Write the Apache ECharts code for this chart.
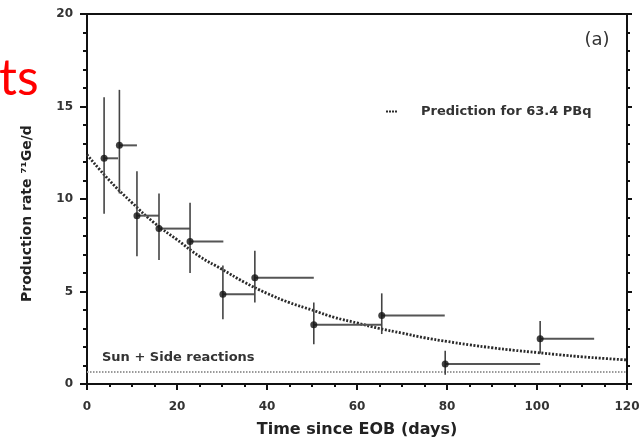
<!DOCTYPE html>
<html><head><meta charset="utf-8">
<script src="https://cdn.jsdelivr.net/npm/echarts@6/dist/echarts.min.js"></script>
<style>html,body{margin:0;padding:0;background:#fff}#c{width:642px;height:439px}</style>
</head><body><div id="c"></div>
<script>
// measured points (days, production rate)
var xs    = [3.8, 7.2, 11.1, 16.0, 22.9, 30.2, 37.3, 50.4, 65.5, 79.6, 100.7];
var ys    = [12.2, 12.9, 9.1, 8.4, 7.7, 4.85, 5.75, 3.2, 3.7, 1.08, 2.45];
var yHi   = [15.5, 15.9, 11.5, 10.3, 9.8, 6.4, 7.2, 4.4, 4.9, 1.8, 3.4];
var yLo   = [9.2, 10.3, 6.9, 6.7, 6.0, 3.5, 4.4, 2.15, 2.7, 0.5, 1.65];
var xEnd  = [6.9, 11.1, 16.0, 22.9, 30.3, 37.2, 50.4, 65.5, 79.5, 100.7, 112.7];
// prediction curve
var predX = [0, 5, 10, 15, 20, 25, 30, 35, 40, 45, 50, 55, 60, 65, 70, 75, 80, 85, 90, 95, 100, 105, 110, 115, 120];
var predY = [12.4, 11.0, 9.8, 8.7, 7.8, 6.9, 6.2, 5.5, 4.9, 4.4, 4.0, 3.6, 3.3, 3.0, 2.75, 2.5, 2.3, 2.12, 1.96, 1.82, 1.7, 1.58, 1.47, 1.38, 1.3];
// background level
var bgX = [0, 120];
var bgY = [0.65, 0.65];
var xTicks = [0, 20, 40, 60, 80, 100, 120];
var yTicks = [0, 5, 10, 15, 20];

var FONT = 'DejaVu Sans';
var chart = echarts.init(document.getElementById('c'), null, {renderer:'canvas'});
var errData = xs.map(function(x,i){return [x, ys[i], yLo[i], yHi[i], xEnd[i]];});
var option = {
  animation:false,
  backgroundColor:'#fff',
  textStyle:{fontFamily:FONT},
  grid:{left:87, right:15, top:14, bottom:55, containLabel:false, outerBoundsMode:'none'},
  legend:{
    data:[{name:'Prediction for 63.4 PBq', icon:'path://M0,0h2v2h-2z M3,0h2v2h-2z M6,0h2v2h-2z M9,0h2v2h-2z'}],
    left:381, top:100, itemWidth:11, itemHeight:3,
    itemStyle:{color:'#2a2a2a'},
    textStyle:{fontFamily:FONT, fontWeight:'bold', fontSize:13, color:'#333', padding:[0,0,0,19]}
  },
  xAxis:[{
    type:'value', min:xTicks[0], max:xTicks[xTicks.length-1], interval:20,
    axisLine:{onZero:false, lineStyle:{color:'#111', width:2}},
    axisTick:{show:true, inside:false, length:6, lineStyle:{color:'#111', width:2}},
    minorTick:{show:true, splitNumber:4, length:3, lineStyle:{color:'#111', width:2}},
    splitLine:{show:false},
    axisLabel:{fontFamily:FONT, fontWeight:'bold', fontSize:12, color:'#333', margin:17},
    name:'Time since EOB (days)', nameLocation:'middle', nameGap:38,
    nameTextStyle:{fontFamily:FONT, fontWeight:'bold', fontSize:16, color:'#222'}
  },{
    type:'value', position:'top', min:0, max:120,
    axisLine:{show:true, onZero:false, lineStyle:{color:'#111', width:2}},
    axisTick:{show:false}, axisLabel:{show:false}, splitLine:{show:false}
  }],
  yAxis:[{
    type:'value', min:yTicks[0], max:yTicks[yTicks.length-1], interval:5,
    axisLine:{show:true, onZero:false, lineStyle:{color:'#111', width:2}},
    axisTick:{show:true, length:7, lineStyle:{color:'#111', width:2}},
    minorTick:{show:true, splitNumber:5, length:4, lineStyle:{color:'#111', width:2}},
    splitLine:{show:false},
    axisLabel:{fontFamily:FONT, fontWeight:'bold', fontSize:12, color:'#333', margin:14}
  },{
    type:'value', position:'right', min:0, max:20, interval:5,
    axisLine:{show:true, onZero:false, lineStyle:{color:'#111', width:2}},
    axisTick:{show:true, length:5, lineStyle:{color:'#111', width:2}},
    minorTick:{show:true, splitNumber:5, length:3, lineStyle:{color:'#111', width:2}},
    axisLabel:{show:false}, splitLine:{show:false}
  }],
  graphic:[
    {type:'text', left:-1, top:54, z:100, style:{text:'ts', fill:'#ff0000', font:'50px Lato'}},
    {type:'text', x:27, y:302, rotation:Math.PI/2, style:{text:'Production rate \u2077\u00b9Ge/d', fill:'#222', font:'bold 14px "DejaVu Sans"', align:'left', verticalAlign:'middle'}},
    {type:'text', x:102, y:358, style:{text:'Sun + Side reactions', fill:'#333', font:'bold 13px "DejaVu Sans"', align:'left', verticalAlign:'middle'}},
    {type:'text', x:597, y:40, style:{text:'(a)', fill:'#333', font:'18px "DejaVu Sans"', align:'center', verticalAlign:'middle'}}
  ],
  series:[
    {
      name:'Sun + Side reactions', type:'line', data:bgX.map(function(x,i){return [x,bgY[i]];}),
      symbol:'none', lineStyle:{color:'#9a9a9a', width:2, type:[1.5,1.5]}, z:1
    },
    {
      name:'Prediction for 63.4 PBq', type:'line', smooth:true, data:predX.map(function(x,i){return [x,predY[i]];}),
      symbol:'none', showSymbol:false, lineStyle:{color:'#2a2a2a', width:2.8, type:[2,1.6]}, itemStyle:{color:'#2a2a2a'}, z:2
    },
    {
      name:'err', type:'custom', data:errData, z:3,
      renderItem:function(params, api){
        var x=api.value(0), y=api.value(1), lo=api.value(2), hi=api.value(3), xe=api.value(4);
        var pTop=api.coord([x,hi]), pBot=api.coord([x,lo]), p0=api.coord([x,y]), p1=api.coord([xe,y]);
        return {type:'group', children:[
          {type:'line', shape:{x1:pTop[0],y1:pTop[1],x2:pBot[0],y2:pBot[1]}, style:{stroke:'#444', lineWidth:1.6}},
          {type:'line', shape:{x1:p0[0],y1:p0[1],x2:p1[0],y2:p1[1]}, style:{stroke:'#555', lineWidth:2}}
        ]};
      }
    },
    {
      name:'data', type:'scatter', data:xs.map(function(x,i){return [x,ys[i]];}),
      symbol:'circle', symbolSize:7, itemStyle:{color:'#111'}, z:4
    }
  ]
};
chart.setOption(option);
</script>
</body></html>
